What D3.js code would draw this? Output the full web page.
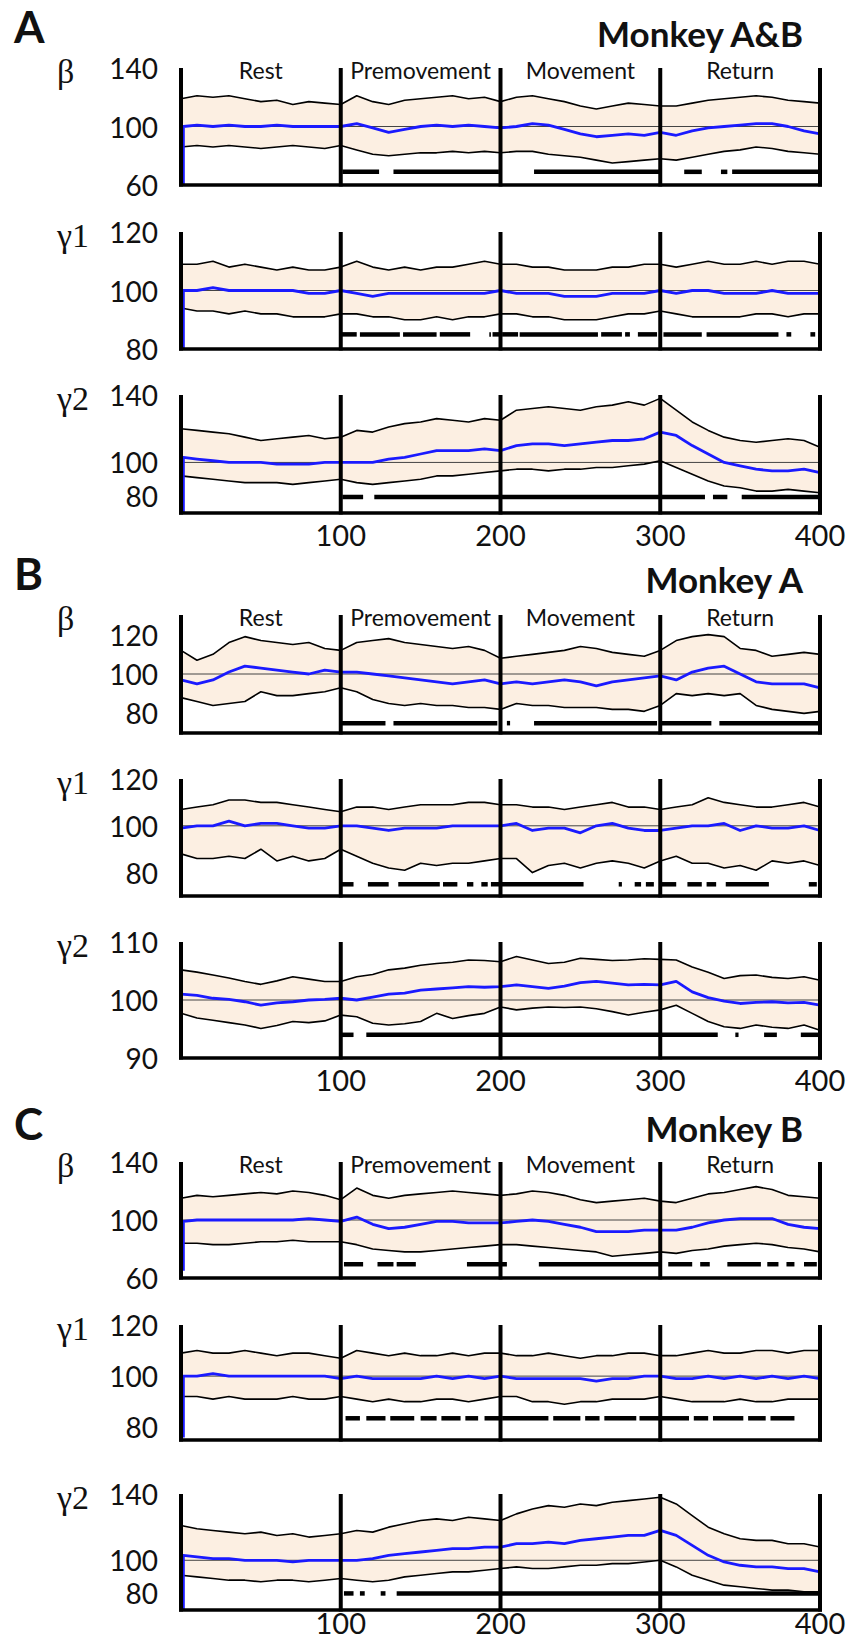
<!DOCTYPE html>
<html>
<head>
<meta charset="utf-8">
<script src="https://cdn.jsdelivr.net/npm/d3@7"></script>
<style>
  body { margin: 0; background: #fff; }
  text { font-family: Lato, "Open Sans", sans-serif; fill: #111; }
</style>
</head>
<body>
<div id="chart"></div>
<script>
// ---- data (one sample every 10 time units, 0..400) ----
const sampleStep = 10;
const phaseNames = ["Rest", "Premovement", "Movement", "Return"];
const phaseBounds = [0, 100, 200, 300, 400];
const xTickValues = [100, 200, 300, 400];

// Monkey A&B
const aBetaUpper = [119,121,120,121,119,117,118,115,117,116,115, 121,117,115,118,119,120,121,119,120,117, 120,121,119,117,114,112,114,116,115,114, 114,116,118,119,120,121,120,118,117,116];
const aBetaMean  = [100,101,100,101,100,100,101,100,100,100,100, 102,99,96,98,100,101,100,101,100,99, 100,102,101,98,95,93,94,95,94,96, 94,97,99,100,101,102,102,100,97,95];
const aBetaLower = [86,87,86,87,86,85,86,87,86,85,87, 84,81,80,81,82,82,83,82,83,82, 83,83,81,80,79,77,75,76,77,78, 77,79,81,83,84,86,85,83,82,81];
const aBetaSig = [[101,124],[133,199],[221,300],[315,326],[338,342],[345,401]];

const aGamma1Upper = [109,109,110,108,109,108,107,108,107,107,108, 110,108,107,108,107,108,108,109,110,109, 109,108,108,107,107,107,108,108,109,109, 108,109,110,109,109,110,109,110,110,109];
const aGamma1Mean  = [100,100,101,100,100,100,100,100,99,99,100, 99,98,99,99,99,99,99,99,99,100, 99,99,99,98,98,98,99,99,99,100, 99,100,100,99,99,99,100,99,99,99];
const aGamma1Lower = [94,93,93,92,93,92,92,91,91,91,92, 92,91,91,90,90,91,90,91,91,92, 92,91,91,90,90,90,91,92,92,93, 92,91,91,91,91,92,92,91,92,92];
const aGamma1Sig = [[100,110],[112,137],[139,160],[162,181],[193,194],[195,200],[201,211],[212,261],[263,276],[278,281],[286,298],[302,326],[329,374],[379,382],[394,397]];

const aGamma2Upper = [120,119,118,117,115,113,114,115,116,114,115, 119,118,121,123,124,126,125,124,126,125, 131,132,133,132,131,133,134,136,134,138, 131,124,119,115,113,112,113,114,113,109];
const aGamma2Mean  = [103,102,101,100,100,100,99,99,99,100,100, 100,100,102,103,105,107,107,107,108,107, 110,111,111,110,111,112,113,113,114,118, 116,110,105,100,98,96,95,95,96,94];
const aGamma2Lower = [92,91,90,89,88,88,88,87,88,89,90, 88,87,88,89,90,92,92,93,94,95, 96,96,95,96,96,97,97,98,99,101, 97,93,89,86,85,83,83,84,83,82];
const aGamma2Sig = [[101,114],[121,328],[333,342],[351,401]];

// Monkey A
const bBetaUpper = [112,107,110,116,119,117,116,115,116,113,112, 116,117,118,116,115,114,113,114,112,108, 109,110,111,112,114,113,111,110,109,112, 117,119,120,119,113,112,109,110,111,110];
const bBetaMean  = [97,95,97,101,104,103,102,101,100,102,101, 101,100,99,98,97,96,95,96,97,95, 96,95,96,97,96,94,96,97,98,99, 97,101,103,104,100,96,95,95,95,93];
const bBetaLower = [88,86,84,85,86,91,89,89,90,91,93, 91,87,85,84,85,84,84,83,83,82, 85,84,84,83,83,83,82,82,81,84, 90,89,90,89,90,84,82,81,80,81];
const bBetaSig = [[100,128],[133,198],[204,206],[221,298],[301,332],[337,401]];

const bGamma1Upper = [107,108,109,111,111,110,110,109,108,107,106, 108,108,107,108,109,109,109,110,110,109, 109,108,108,107,108,109,110,108,108,107, 108,109,112,110,109,108,108,109,110,108];
const bGamma1Mean  = [99,100,100,102,100,101,101,100,99,99,100, 100,99,98,99,99,99,100,100,100,100, 101,98,99,99,97,100,101,99,98,98, 99,100,100,101,98,100,99,99,100,98];
const bGamma1Lower = [88,86,86,87,86,90,85,87,85,86,90, 87,84,82,81,84,83,84,84,85,86, 86,80,83,84,82,84,85,84,82,85, 87,84,84,82,83,81,85,84,85,83];
const bGamma1Sig = [[100,108],[117,130],[136,162],[164,173],[179,183],[188,192],[194,252],[274,276],[284,288],[291,296],[301,310],[317,326],[329,335],[341,368],[393,398]];

const bGamma2Upper = [105.2,104.8,104.3,103.8,103.2,102.7,103.3,104.0,103.6,103.2,103.2, 104.0,104.4,105.2,105.5,106.0,106.3,106.5,106.9,106.8,106.6, 107.5,106.9,106.3,106.5,107.2,107.0,106.8,106.9,107.1,107.0, 106.9,105.7,104.8,103.7,104.2,104.3,103.9,103.7,104.0,103.4];
const bGamma2Mean  = [101.0,100.8,100.3,100.1,99.7,99.1,99.5,99.7,100.0,100.1,100.3, 100.0,100.5,101.0,101.2,101.7,101.9,102.1,102.3,102.2,102.3, 102.6,102.3,102.0,102.4,103.0,103.2,102.9,102.6,102.7,102.6, 103.2,101.4,100.4,99.8,99.4,99.6,99.7,99.5,99.6,99.1];
const bGamma2Lower = [97.7,96.9,96.5,96.1,95.7,95.1,95.6,96.3,96.1,96.4,97.4, 97.1,96.0,95.7,95.9,96.3,97.7,96.8,97.3,97.7,98.8, 98.3,98.6,98.8,98.7,98.8,98.5,98.0,97.4,97.9,98.3, 99.1,97.7,96.3,95.4,95.1,95.7,95.3,95.1,95.7,94.8];
const bGamma2Sig = [[100,108],[116,336],[347,349],[365,373],[388,401]];

// Monkey B
const cBetaUpper = [115,117,116,117,118,119,118,120,119,117,114, 122,117,115,117,118,119,120,119,118,117, 118,120,119,117,114,112,113,114,115,113, 112,115,118,119,121,123,121,117,116,115];
const cBetaMean  = [99,100,100,100,100,100,100,100,101,100,99, 102,97,94,95,97,99,99,98,98,98, 99,100,99,97,95,92,92,92,93,93, 93,95,98,100,101,101,101,97,95,94];
const cBetaLower = [84,84,83,83,84,85,85,86,85,85,85, 83,80,79,78,78,79,80,81,82,83, 83,82,81,80,79,78,75,76,77,78, 77,79,80,82,83,84,83,81,80,78];
const cBetaSig = [[102,114],[123,133],[135,147],[179,204],[224,300],[305,320],[325,331],[342,363],[367,374],[379,384],[390,398]];

const cGamma1Upper = [109,110,109,109,110,109,108,109,109,108,107, 110,109,108,109,108,108,109,108,109,109, 108,108,109,108,107,108,108,109,109,108, 108,109,110,109,109,110,110,109,110,110];
const cGamma1Mean  = [100,100,101,100,100,100,100,100,100,100,99, 100,99,99,99,99,100,99,100,99,100, 99,99,99,99,99,98,99,99,100,100, 99,99,100,99,100,99,100,99,100,99];
const cGamma1Lower = [92,92,91,92,91,91,91,92,91,91,92, 91,90,91,90,90,91,91,90,91,92, 92,90,90,89,90,90,91,91,91,92, 91,90,90,90,91,90,90,91,91,91];
const cGamma1Sig = [[103,112],[116,128],[131,146],[150,160],[163,175],[178,186],[190,200],[201,230],[233,250],[253,262],[265,285],[287,300],[301,318],[321,330],[333,352],[355,366],[369,384]];

const cGamma2Upper = [121,119,118,117,116,117,115,116,114,115,116, 118,117,120,122,124,125,124,126,125,124, 128,131,133,132,134,133,135,136,137,138, 134,127,120,116,113,112,112,110,110,108];
const cGamma2Mean  = [103,102,101,101,100,100,100,99,100,100,100, 100,101,103,104,105,106,107,107,108,108, 110,110,111,110,112,113,114,115,115,118, 115,109,103,99,97,96,96,95,95,93];
const cGamma2Lower = [91,90,89,88,88,87,88,88,87,88,89, 88,87,88,90,91,92,93,93,94,95, 96,95,95,96,97,97,98,98,99,100, 96,91,88,85,84,83,82,82,81,81];
const cGamma2Sig = [[102,108],[112,115],[125,128],[135,401]];

// ---- layout ----
const width = 847, height = 1642;
const bandColor = "#fcefe2";
const meanColor = "#1a1aff";
const dropX = 1.5;

const sections = [
  { letter: "A", title: "Monkey A&B", letterY: 43, titleY: 47, xLabelY: 546, panels: [
    { label: "β",  top: 68,  bottom: 185, domain: [60, 140], ticks: [60, 100, 140], upper: aBetaUpper, mean: aBetaMean, lower: aBetaLower, sig: aBetaSig, sigLevel: 69, drop: 60, phases: true },
    { label: "γ1", top: 232, bottom: 349, domain: [80, 120], ticks: [80, 100, 120], upper: aGamma1Upper, mean: aGamma1Mean, lower: aGamma1Lower, sig: aGamma1Sig, sigLevel: 85, drop: 80 },
    { label: "γ2", top: 395, bottom: 513, domain: [70, 140], ticks: [80, 100, 140], upper: aGamma2Upper, mean: aGamma2Mean, lower: aGamma2Lower, sig: aGamma2Sig, sigLevel: 79.5, drop: 70 }
  ]},
  { letter: "B", title: "Monkey A", letterY: 590, titleY: 593, xLabelY: 1091, panels: [
    { label: "β",  top: 615, bottom: 733, domain: [70, 130], ticks: [80, 100, 120], upper: bBetaUpper, mean: bBetaMean, lower: bBetaLower, sig: bBetaSig, sigLevel: 75, drop: null, phases: true },
    { label: "γ1", top: 779, bottom: 896, domain: [70, 120], ticks: [80, 100, 120], upper: bGamma1Upper, mean: bGamma1Mean, lower: bGamma1Lower, sig: bGamma1Sig, sigLevel: 75, drop: null },
    { label: "γ2", top: 942, bottom: 1058, domain: [90, 110], ticks: [90, 100, 110], upper: bGamma2Upper, mean: bGamma2Mean, lower: bGamma2Lower, sig: bGamma2Sig, sigLevel: 94, drop: null }
  ]},
  { letter: "C", title: "Monkey B", letterY: 1140, titleY: 1142, xLabelY: 1634, panels: [
    { label: "β",  top: 1162, bottom: 1278, domain: [60, 140], ticks: [60, 100, 140], upper: cBetaUpper, mean: cBetaMean, lower: cBetaLower, sig: cBetaSig, sigLevel: 69.5, drop: 65, phases: true },
    { label: "γ1", top: 1325, bottom: 1440, domain: [75, 120], ticks: [80, 100, 120], upper: cGamma1Upper, mean: cGamma1Mean, lower: cGamma1Lower, sig: cGamma1Sig, sigLevel: 83.5, drop: 76 },
    { label: "γ2", top: 1494, bottom: 1610, domain: [70, 140], ticks: [80, 100, 140], upper: cGamma2Upper, mean: cGamma2Mean, lower: cGamma2Lower, sig: cGamma2Sig, sigLevel: 80, drop: 70 }
  ]}
];

const svg = d3.select("#chart").append("svg")
  .attr("width", width)
  .attr("height", height);

const x = d3.scaleLinear().domain([0, 400]).range([181, 820]);

function drawPanel(p) {
  const y = d3.scaleLinear().domain(p.domain).range([p.bottom, p.top]);
  const g = svg.append("g");

  const toPoints = (arr) => arr.map((v, i) => [i * sampleStep, v]);
  const line = d3.line().x((d) => x(d[0])).y((d) => y(d[1]));

  // shaded band between the bounds
  const band = p.upper.map((u, i) => ({ t: i * sampleStep, hi: u, lo: p.lower[i] }));
  g.append("path")
    .datum(band)
    .attr("fill", bandColor)
    .attr("d", d3.area().x((d) => x(d.t)).y0((d) => y(d.lo)).y1((d) => y(d.hi)));

  // reference line at 100
  g.append("line")
    .attr("x1", x(0)).attr("x2", x(400))
    .attr("y1", y(100)).attr("y2", y(100))
    .attr("stroke", "#444").attr("stroke-width", 1);

  // bounds
  [p.upper, p.lower].forEach((arr) => {
    g.append("path")
      .datum(toPoints(arr))
      .attr("fill", "none")
      .attr("stroke", "#000")
      .attr("stroke-width", 1.6)
      .attr("stroke-linejoin", "round")
      .attr("d", line);
  });

  // mean
  let meanPts = toPoints(p.mean);
  if (p.drop != null) {
    meanPts = [[dropX, p.drop], [dropX, p.mean[0]]].concat(meanPts.slice(1));
  }
  g.append("path")
    .datum(meanPts)
    .attr("fill", "none")
    .attr("stroke", meanColor)
    .attr("stroke-width", 2.8)
    .attr("stroke-linejoin", "round")
    .attr("d", line);

  // significance bars
  g.append("g")
    .selectAll("line")
    .data(p.sig)
    .join("line")
    .attr("x1", (d) => x(d[0]))
    .attr("x2", (d) => x(d[1]))
    .attr("y1", y(p.sigLevel))
    .attr("y2", y(p.sigLevel))
    .attr("stroke", "#000")
    .attr("stroke-width", 4.5);

  // phase separators and frame
  g.append("g")
    .selectAll("line")
    .data(phaseBounds)
    .join("line")
    .attr("x1", (d) => x(d)).attr("x2", (d) => x(d))
    .attr("y1", p.top).attr("y2", p.bottom + 1.5)
    .attr("stroke", "#000")
    .attr("stroke-width", 4);

  g.append("line")
    .attr("x1", x(0) - 2).attr("x2", x(400) + 2)
    .attr("y1", p.bottom).attr("y2", p.bottom)
    .attr("stroke", "#000")
    .attr("stroke-width", 3.5);

  // y tick labels
  g.append("g")
    .selectAll("text")
    .data(p.ticks)
    .join("text")
    .attr("x", 158)
    .attr("y", (d) => y(d))
    .attr("text-anchor", "end")
    .attr("dominant-baseline", "central")
    .attr("font-size", 28)
    .text((d) => d);

  // band name
  g.append("text")
    .attr("x", 57)
    .attr("y", p.top + 15)
    .style("font-family", "'Liberation Serif', 'DejaVu Serif', serif")
    .attr("font-size", 34)
    .text(p.label);

  // phase names
  if (p.phases) {
    g.append("g")
      .selectAll("text")
      .data(phaseNames)
      .join("text")
      .attr("x", (d, i) => x((phaseBounds[i] + phaseBounds[i + 1]) / 2))
      .attr("y", p.top + 11)
      .attr("text-anchor", "middle")
      .attr("font-size", 23)
      .text((d) => d);
  }
}

sections.forEach((s) => {
  svg.append("text")
    .attr("x", 14)
    .attr("y", s.letterY)
    .attr("font-size", 44)
    .attr("font-weight", "bold")
    .text(s.letter);

  svg.append("text")
    .attr("x", 803)
    .attr("y", s.titleY)
    .attr("text-anchor", "end")
    .attr("font-size", 35)
    .attr("font-weight", "bold")
    .text(s.title);

  s.panels.forEach(drawPanel);

  svg.append("g")
    .selectAll("text")
    .data(xTickValues)
    .join("text")
    .attr("x", (d) => x(d))
    .attr("y", s.xLabelY)
    .attr("text-anchor", "middle")
    .attr("font-size", 29)
    .text((d) => d);
});
</script>
</body>
</html>
